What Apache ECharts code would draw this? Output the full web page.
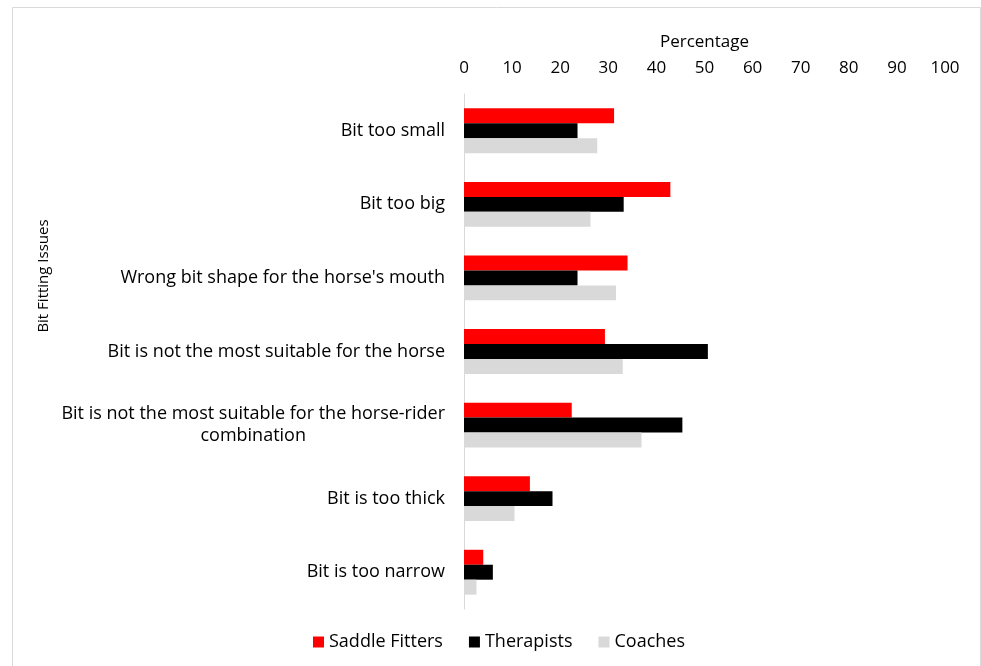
<!DOCTYPE html>
<html>
<head>
<meta charset="utf-8">
<script src="https://cdn.jsdelivr.net/npm/echarts@6/dist/echarts.min.js"></script>
<style>html,body{margin:0;padding:0;background:#fff;}#main{width:981px;height:666px;}</style>
</head>
<body>
<div id="main"></div>
<script>
const categories = [
  "Bit too small",
  "Bit too big",
  "Wrong bit shape for the horse's mouth",
  "Bit is not the most suitable for the horse",
  "Bit is not the most suitable for the horse-rider combination",
  "Bit is too thick",
  "Bit is too narrow"
];
const saddleFitters = [31.2, 42.9, 34.0, 29.3, 22.4, 13.7, 4.0];
const therapists = [23.6, 33.2, 23.6, 50.7, 45.4, 18.4, 6.0];
const coaches = [27.7, 26.3, 31.6, 33.0, 36.9, 10.5, 2.6];
const xTicks = [0, 10, 20, 30, 40, 50, 60, 70, 80, 90, 100];

const FONT = '"Open Sans"';
const FS = 17;
const FL = 18;
const chart = echarts.init(document.getElementById('main'), null, {renderer: 'canvas'});
const mk = (name, data, color) => ({
  name, type: 'bar', data, barGap: '0%', barCategoryGap: '39%',
  itemStyle: {color}, emphasis: {disabled: true}
});
chart.setOption({
  animation: false,
  textStyle: {fontFamily: FONT},
  graphic: [
    {type: 'rect', shape: {x: 12.5, y: 7.5, width: 968, height: 662}, style: {fill: 'none', stroke: '#d9d9d9', lineWidth: 1}, silent: true},
    {type: 'text', x: 44, y: 276, rotation: Math.PI / 2, style: {text: 'Bit Fitting Issues', font: '15px ' + FONT, fill: '#000', align: 'center', verticalAlign: 'middle'}}
  ],
  legend: {
    bottom: 10, left: 308, itemWidth: 11, itemHeight: 11, itemGap: 26,
    icon: 'rect',
    textStyle: {fontSize: FL, color: '#000', fontFamily: FONT},
    data: ['Saddle Fitters', 'Therapists', 'Coaches']
  },
  grid: {left: 464, right: 36, top: 94, bottom: 57, containLabel: false},
  xAxis: {
    type: 'value', position: 'top', min: xTicks[0], max: xTicks[xTicks.length - 1], interval: 10,
    name: 'Percentage', nameLocation: 'middle', nameGap: 43,
    nameTextStyle: {fontSize: FS, color: '#000', fontFamily: FONT},
    axisLine: {show: false}, axisTick: {show: false}, splitLine: {show: false},
    axisLabel: {fontSize: FS, color: '#000', margin: 17, fontFamily: FONT}
  },
  yAxis: {
    type: 'category', inverse: true, data: categories,
    axisLine: {show: true, lineStyle: {color: '#d9d9d9', width: 1}},
    axisTick: {show: false},
    axisLabel: {
      fontSize: FL, color: '#000', margin: 19, fontFamily: FONT,
      formatter: function (v) {
        if (v.indexOf('horse-rider') >= 0) {
          return '{c|Bit is not the most suitable for the horse-rider}\n{c|combination}';
        }
        return v;
      },
      rich: {c: {align: 'center', fontSize: FL, color: '#000', fontFamily: FONT, lineHeight: 22}}
    }
  },
  series: [
    mk('Saddle Fitters', saddleFitters, '#ff0000'),
    mk('Therapists', therapists, '#000000'),
    mk('Coaches', coaches, '#d9d9d9')
  ]
});
</script>
</body>
</html>
